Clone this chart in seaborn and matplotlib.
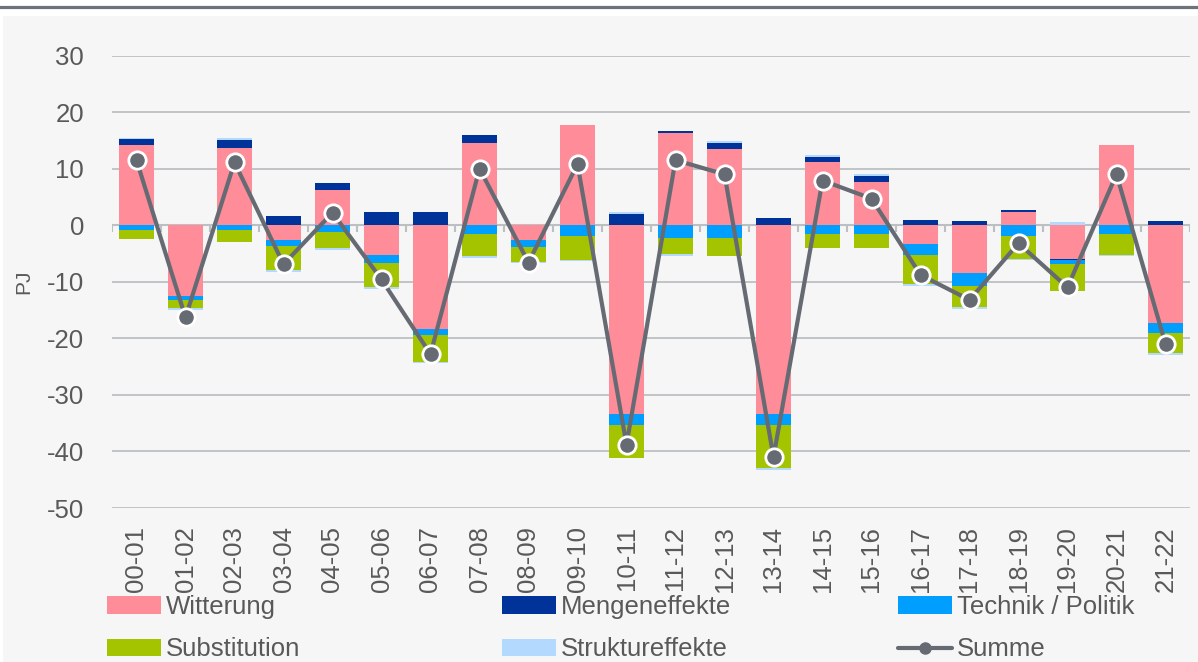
import matplotlib
matplotlib.use("Agg")
import matplotlib.pyplot as plt
from matplotlib.patches import Patch, Rectangle
from matplotlib.lines import Line2D
import seaborn as sns
import pandas as pd
import numpy as np

# periods (heating years)
periods = ["00-01", "01-02", "02-03", "03-04", "04-05", "05-06", "06-07", "07-08",
           "08-09", "09-10", "10-11", "11-12", "12-13", "13-14", "14-15", "15-16",
           "16-17", "17-18", "18-19", "19-20", "20-21", "21-22"]

# components in PJ
witterung = [14.1, -12.6, 13.7, -2.6, 6.3, -5.2, -18.4, 14.5, -2.6, 17.8, -33.3,
             16.3, 13.4, -33.3, 11.2, 7.6, -3.4, -8.4, 2.3, -5.9, 14.1, -17.3]
mengeneffekte = [1.1, 0.0, 1.4, 1.6, 1.1, 2.3, 2.3, 1.4, 0.0, 0.0, 1.9,
                 0.35, 1.1, 1.3, 0.8, 1.1, 0.9, 0.8, 0.4, -0.3, 0.0, 0.8]
technik = [-0.9, -0.6, -0.9, -1.1, -1.2, -1.4, -1.0, -1.5, -1.3, -1.9, -2.1,
           -2.2, -2.2, -2.1, -1.6, -1.6, -1.8, -2.4, -1.9, -0.7, -1.6, -1.8]
substitution = [-1.6, -1.5, -2.0, -4.2, -2.9, -4.3, -4.7, -4.0, -2.6, -4.2, -5.7,
                -2.9, -3.2, -7.6, -2.4, -2.4, -5.2, -3.7, -4.0, -4.7, -3.6, -3.5]
struktur = [0.3, -0.3, 0.3, -0.4, -0.3, -0.4, -0.3, -0.3, -0.2, -0.3, 0.4,
            -0.3, 0.3, -0.3, 0.4, 0.4, -0.4, -0.4, -0.3, 0.5, -0.3, -0.3]
summe = [11.5, -16.3, 11.1, -6.9, 2.2, -9.6, -22.8, 10.0, -6.6, 10.8, -38.8,
         11.5, 9.0, -41.0, 7.9, 4.7, -8.8, -13.2, -3.2, -11.0, 9.0, -21.0]

series = [
    ("Witterung", witterung, "#FF8C99"),
    ("Mengeneffekte", mengeneffekte, "#003399"),
    ("Technik / Politik", technik, "#009FFF"),
    ("Substitution", substitution, "#A5C400"),
    ("Struktureffekte", struktur, "#B3D9FF"),
]
line_color = "#666B73"
text_color = "#595959"
grid_color = "#BDC0C3"

sns.set_style("white")
plt.rcParams["font.family"] = ["Liberation Sans", "DejaVu Sans"]
plt.rcParams["axes.unicode_minus"] = False

fig = plt.figure(figsize=(11.98, 6.62), dpi=100)
# light panel + dark rule at the top
fig.patches.append(Rectangle((3 / 1198, 0), 1, (662 - 16) / 662, transform=fig.transFigure,
                             facecolor="#F6F6F6", edgecolor="none", zorder=-10))
fig.lines.append(Line2D([0, 1], [(662 - 7) / 662] * 2, transform=fig.transFigure,
                        color="#6D737A", lw=2.3))

ax = fig.add_axes([112 / 1198, (662 - 508) / 662, (1190 - 112) / 1198, (508 - 55.5) / 662])
ax.set_facecolor("none")

# stacked bars: draw cumulative totals, top-most layer first
vals = np.array([s[1] for s in series])
pos_cum = np.cumsum(np.clip(vals, 0, None), axis=0)
neg_cum = np.cumsum(np.clip(vals, None, 0), axis=0)
for k in reversed(range(len(series))):
    name, _, color = series[k]
    for cum in (pos_cum[k], neg_cum[k]):
        sns.barplot(x=periods, y=cum, color=color, saturation=1, width=0.7,
                    linewidth=0, errorbar=None, ax=ax, zorder=2)

sns.pointplot(x=periods, y=summe, color=line_color, markers="o", linestyles="-",
              errorbar=None, linewidth=3, markersize=12.5, markeredgecolor="white",
              markeredgewidth=2, ax=ax, zorder=5)

n = len(periods)
ax.set_xlim(-0.5, n - 0.5)
ax.set_ylim(-50, 30)
ax.set_yticks(range(-50, 31, 10))
ax.yaxis.grid(True, color=grid_color, lw=1.3, zorder=0)
ax.xaxis.grid(False)
ax.set_axisbelow(True)
for sp in ax.spines.values():
    sp.set_visible(False)

# category axis at zero with boundary tick marks
ax.axhline(0, color=grid_color, lw=1.5, zorder=1)
ax.vlines(np.arange(n + 1) - 0.5, -1.25, 0, color=grid_color, lw=1.5, zorder=1)

ax.tick_params(axis="x", length=0, pad=13, labelsize=18.5, labelcolor=text_color,
               rotation=90)
ax.tick_params(axis="y", length=0, pad=20, labelsize=18.5, labelcolor=text_color)
ax.set_xlabel("")
ax.set_ylabel("PJ", fontsize=15, color=text_color)
ax.yaxis.set_label_coords((33 - 112) / 1078, 0.5)

# legend: three columns, two rows
handles = [Patch(facecolor=c, edgecolor="none") for _, _, c in series]
labels = [s[0] for s in series]
handles.append(Line2D([], [], color=line_color, lw=3, marker="o", markersize=8))
labels.append("Summe")
col_x = [107, 502, 898]
for i, x in enumerate(col_x):
    idx = [i, i + 3]
    fig.legend([handles[j] for j in idx], [labels[j] for j in idx],
               loc="upper left", bbox_to_anchor=(x / 1198, (662 - 595) / 662),
               frameon=False, borderpad=0, borderaxespad=0, fontsize=18.5,
               labelcolor=text_color, handlelength=2.1, handleheight=0.68,
               handletextpad=0.2, labelspacing=0.72)

fig.savefig("out.png", dpi=100)
